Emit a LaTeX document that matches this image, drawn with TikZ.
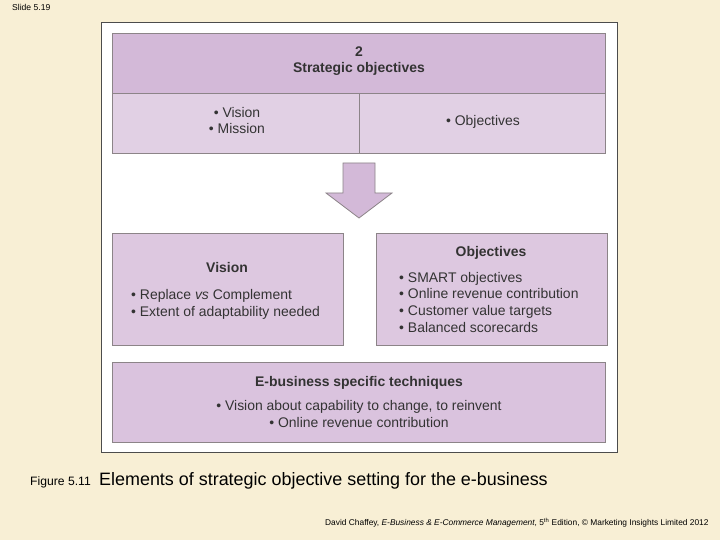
\documentclass[tikz,border=0pt]{standalone}
\usepackage{fontspec}
\setmainfont{Liberation Sans}
\definecolor{bgcream}{HTML}{F8EFD5}
\definecolor{hdrpurple}{HTML}{D3B9D8}
\definecolor{lightpurple}{HTML}{E1D0E4}
\definecolor{midpurple}{HTML}{DDC8E0}
\definecolor{boxline}{HTML}{8C8488}
\definecolor{txt}{HTML}{333333}
\begin{document}
\begin{tikzpicture}[x=1bp,y=-1bp,
  box/.style={draw=boxline,line width=0.8bp,inner sep=0pt,anchor=north west},
  lbl/.style={text=txt,font=\fontsize{14}{16.7}\selectfont,inner sep=0pt},
  ttl/.style={lbl,font=\fontsize{14}{16.7}\selectfont\bfseries}]
\useasboundingbox[fill=bgcream] (0,0) rectangle (720,540);
% white panel
\node[box,draw=black!70,fill=white,minimum width=516bp,minimum height=430bp] (panel) at (101,22) {};
% top box
\node[box,fill=hdrpurple,minimum width=493bp,minimum height=60bp] (hdr) at (112,33) {};
\node[box,fill=lightpurple,minimum width=247bp,minimum height=60bp] (vm) at (112,93) {};
\node[box,fill=lightpurple,minimum width=246bp,minimum height=60bp] (ob) at (359,93) {};
\node[ttl,align=center,anchor=base] (hdrtxt) at (359,73) {2\\Strategic objectives};
\node[lbl,align=center,anchor=base] (vmtxt) at (237,134) {• Vision\\• Mission};
\node[lbl,anchor=base] (obtxt) at (483,126) {• Objectives};
% block arrow
\draw[boxline,fill=hdrpurple,line width=0.8bp] (343,163) -- (375,163) -- (375,193) -- (392,193) -- (359,218) -- (326,193) -- (343,193) -- cycle;
% middle boxes
\node[box,fill=midpurple,minimum width=231bp,minimum height=112bp] (vis) at (112,233) {};
\node[box,fill=midpurple,minimum width=231bp,minimum height=112bp] (obj) at (376,233) {};
\node[ttl,anchor=base] (vist) at (227,273) {Vision};
\node[lbl,align=left,anchor=base west] (visb) at (131,316) {• Replace \textit{vs} Complement\\• Extent of adaptability needed};
\node[ttl,anchor=base] (objt) at (491,257) {Objectives};
\node[lbl,align=left,anchor=base west] (objb) at (399,332) {• SMART objectives\\• Online revenue contribution\\• Customer value targets\\• Balanced scorecards};
% bottom box
\node[box,fill=hdrpurple!85!white,minimum width=493bp,minimum height=80bp] (eb) at (112,362) {};
\node[ttl,anchor=base] (ebt) at (359,386) {E-business specific techniques};
\node[lbl,align=center,anchor=base] (ebb) at (359,427) {• Vision about capability to change, to reinvent\\• Online revenue contribution};
% captions
\node[text=black,font=\fontsize{8.6}{10}\selectfont,anchor=base west,inner sep=0pt] (slide) at (12,11) {Slide 5.19};
\node[text=black,font=\fontsize{12.2}{14}\selectfont,anchor=base west,inner sep=0pt] (fig) at (30,485) {Figure 5.11};
\node[text=black,font=\fontsize{18}{20}\selectfont,anchor=base west,inner sep=0pt] (cap) at (99,485) {Elements of strategic objective setting for the e-business};
\node[text=black,font=\fontsize{8.4}{10}\selectfont,anchor=base west,inner sep=0pt] (foot) at (325,525) {David Chaffey, \textit{E-Business \& E-Commerce Management}, 5\textsuperscript{th} Edition, © Marketing Insights Limited 2012};
\end{tikzpicture}
\end{document}
